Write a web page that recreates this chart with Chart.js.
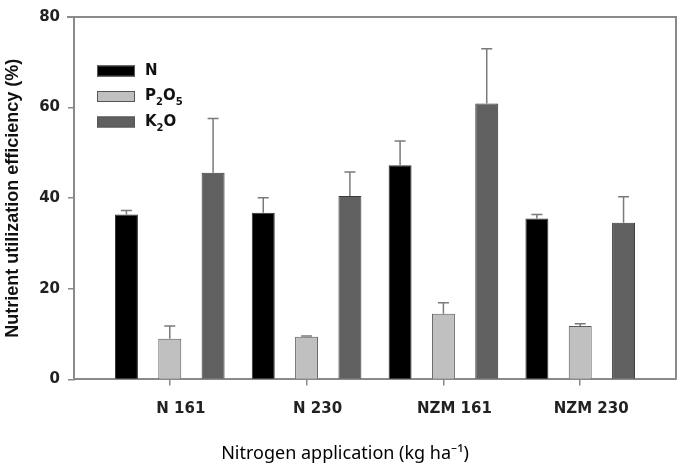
<!DOCTYPE html>
<html>
<head>
  <meta charset="UTF-8">
  <title>Nutrient utilization efficiency</title>
  <script src="https://cdn.jsdelivr.net/npm/chart.js@4.4.0/dist/chart.umd.min.js"></script>
  <style>
    body { margin: 0; background: #fff; }
  </style>
</head>
<body>
  <div style="position: relative; width:686px; height:465px;">
    <canvas id="bar-chart" width="686" height="465"></canvas>
  </div>
  <script>
    // values
    var categories = ['N 161', 'N 230', 'NZM 161', 'NZM 230'];
    var seriesNames = ['N', 'P2O5', 'K2O'];
    var nValues = [36.4, 36.8, 47.3, 35.5];
    var nErrors = [0.9, 3.3, 5.3, 0.9];
    var pValues = [9.0, 9.4, 14.5, 11.8];
    var pErrors = [2.8, 0.2, 2.4, 0.5];
    var kValues = [45.6, 40.5, 60.9, 34.6];
    var kErrors = [12.0, 5.3, 12.1, 5.7];
    var yTicks = [0, 20, 40, 60, 80];

    var axisGray = '#8a8a8a';
    var tickFont = { family: 'DejaVu Sans', size: 15, weight: 'bold' };

    function toPoints(vals) {
      return vals.map(function (v, i) { return { x: i, y: v }; });
    }

    // top and right frame lines
    var frame = {
      id: 'frame',
      afterDraw: function (chart) {
        var ctx = chart.ctx, a = chart.chartArea;
        ctx.save();
        ctx.strokeStyle = axisGray;
        ctx.lineWidth = 2;
        ctx.beginPath();
        ctx.moveTo(a.left - 7, a.top);
        ctx.lineTo(a.right, a.top);
        ctx.lineTo(a.right, a.bottom);
        ctx.stroke();
        ctx.restore();
      }
    };

    // upper error bars
    var errorBars = {
      id: 'errorBars',
      afterDatasetsDraw: function (chart) {
        var ctx = chart.ctx, ys = chart.scales.y;
        ctx.save();
        ctx.strokeStyle = '#7a7a7a';
        ctx.lineWidth = 1.5;
        chart.data.datasets.forEach(function (ds, i) {
          chart.getDatasetMeta(i).data.forEach(function (bar, j) {
            var v = ds.data[j].y;
            var y0 = ys.getPixelForValue(v);
            var y1 = ys.getPixelForValue(v + ds.errors[j]);
            ctx.beginPath();
            ctx.moveTo(bar.x, y0);
            ctx.lineTo(bar.x, y1);
            ctx.moveTo(bar.x - 5.5, y1);
            ctx.lineTo(bar.x + 5.5, y1);
            ctx.stroke();
          });
        });
        ctx.restore();
      }
    };

    // legend inside the plot, with subscript digits
    var innerLegend = {
      id: 'innerLegend',
      afterDraw: function (chart) {
        var ctx = chart.ctx;
        var x = 97, y = 71;
        ctx.save();
        chart.data.datasets.forEach(function (ds, i) {
          var cy = y + i * 25.5;
          ctx.fillStyle = ds.backgroundColor;
          ctx.strokeStyle = '#555';
          ctx.lineWidth = 1;
          ctx.fillRect(x, cy - 5.5, 38, 11);
          ctx.strokeRect(x + 0.5, cy - 5, 37, 10);
          var tx = x + 48;
          ctx.fillStyle = '#111';
          ctx.textBaseline = 'middle';
          ds.label.split('').forEach(function (ch) {
            if (/[0-9]/.test(ch)) {
              ctx.font = 'bold 10px "DejaVu Sans"';
              ctx.fillText(ch, tx, cy + 6);
            } else {
              ctx.font = 'bold 15px "DejaVu Sans"';
              ctx.fillText(ch, tx, cy);
            }
            tx += ctx.measureText(ch).width;
          });
        });
        ctx.restore();
      }
    };

    new Chart(document.getElementById('bar-chart'), {
      type: 'bar',
      data: {
        datasets: [{
          label: seriesNames[0],
          data: toPoints(nValues),
          errors: nErrors,
          backgroundColor: '#000000',
          borderColor: '#333333',
          borderWidth: 1
        }, {
          label: seriesNames[1],
          data: toPoints(pValues),
          errors: pErrors,
          backgroundColor: '#c0c0c0',
          borderColor: '#5a5a5a',
          borderWidth: 1
        }, {
          label: seriesNames[2],
          data: toPoints(kValues),
          errors: kErrors,
          backgroundColor: '#606060',
          borderColor: '#3a3a3a',
          borderWidth: 1
        }]
      },
      options: {
        responsive: false,
        animation: false,
        categoryPercentage: 0.95,
        barPercentage: 0.53,
        layout: { padding: { top: 14, right: 10, left: 14, bottom: 0 } },
        plugins: {
          legend: { display: false },
          tooltip: { enabled: false },
          title: {
            display: true,
            position: 'bottom',
            text: 'Nitrogen application (kg ha\u207B\u00B9)',
            color: '#000',
            font: { family: 'Noto Sans', size: 18, weight: 'normal' },
            padding: { top: 14, bottom: 0 }
          }
        },
        scales: {
          x: {
            type: 'linear',
            offset: false,
            min: -0.7,
            max: 3.7,
            afterBuildTicks: function (scale) {
              scale.ticks = categories.map(function (c, i) { return { value: i }; });
            },
            afterFit: function (scale) { scale.height = 50; },
            ticks: {
              callback: function (v) { return categories[v]; },
              font: tickFont,
              color: '#222',
              padding: 15,
              labelOffset: 11,
              maxRotation: 0
            },
            grid: { offset: false, drawOnChartArea: false, tickLength: 6, color: axisGray, lineWidth: 1.5 },
            border: { color: axisGray, width: 2 }
          },
          y: {
            min: 0,
            max: 80,
            afterBuildTicks: function (scale) {
              scale.ticks = yTicks.map(function (v) { return { value: v }; });
            },
            afterFit: function (scale) { scale.width = 60; },
            ticks: { font: tickFont, color: '#222', padding: 8 },
            grid: { drawOnChartArea: false, tickLength: 6, color: axisGray, lineWidth: 1.5 },
            border: { color: axisGray, width: 2 },
            title: {
              display: true,
              text: 'Nutrient utilization efficiency (%)',
              color: '#111',
              font: { family: 'Liberation Sans', size: 18, weight: 'bold' },
              padding: { top: -12, bottom: 0 }
            }
          }
        }
      },
      plugins: [frame, errorBars, innerLegend]
    });
  </script>
</body>
</html>
